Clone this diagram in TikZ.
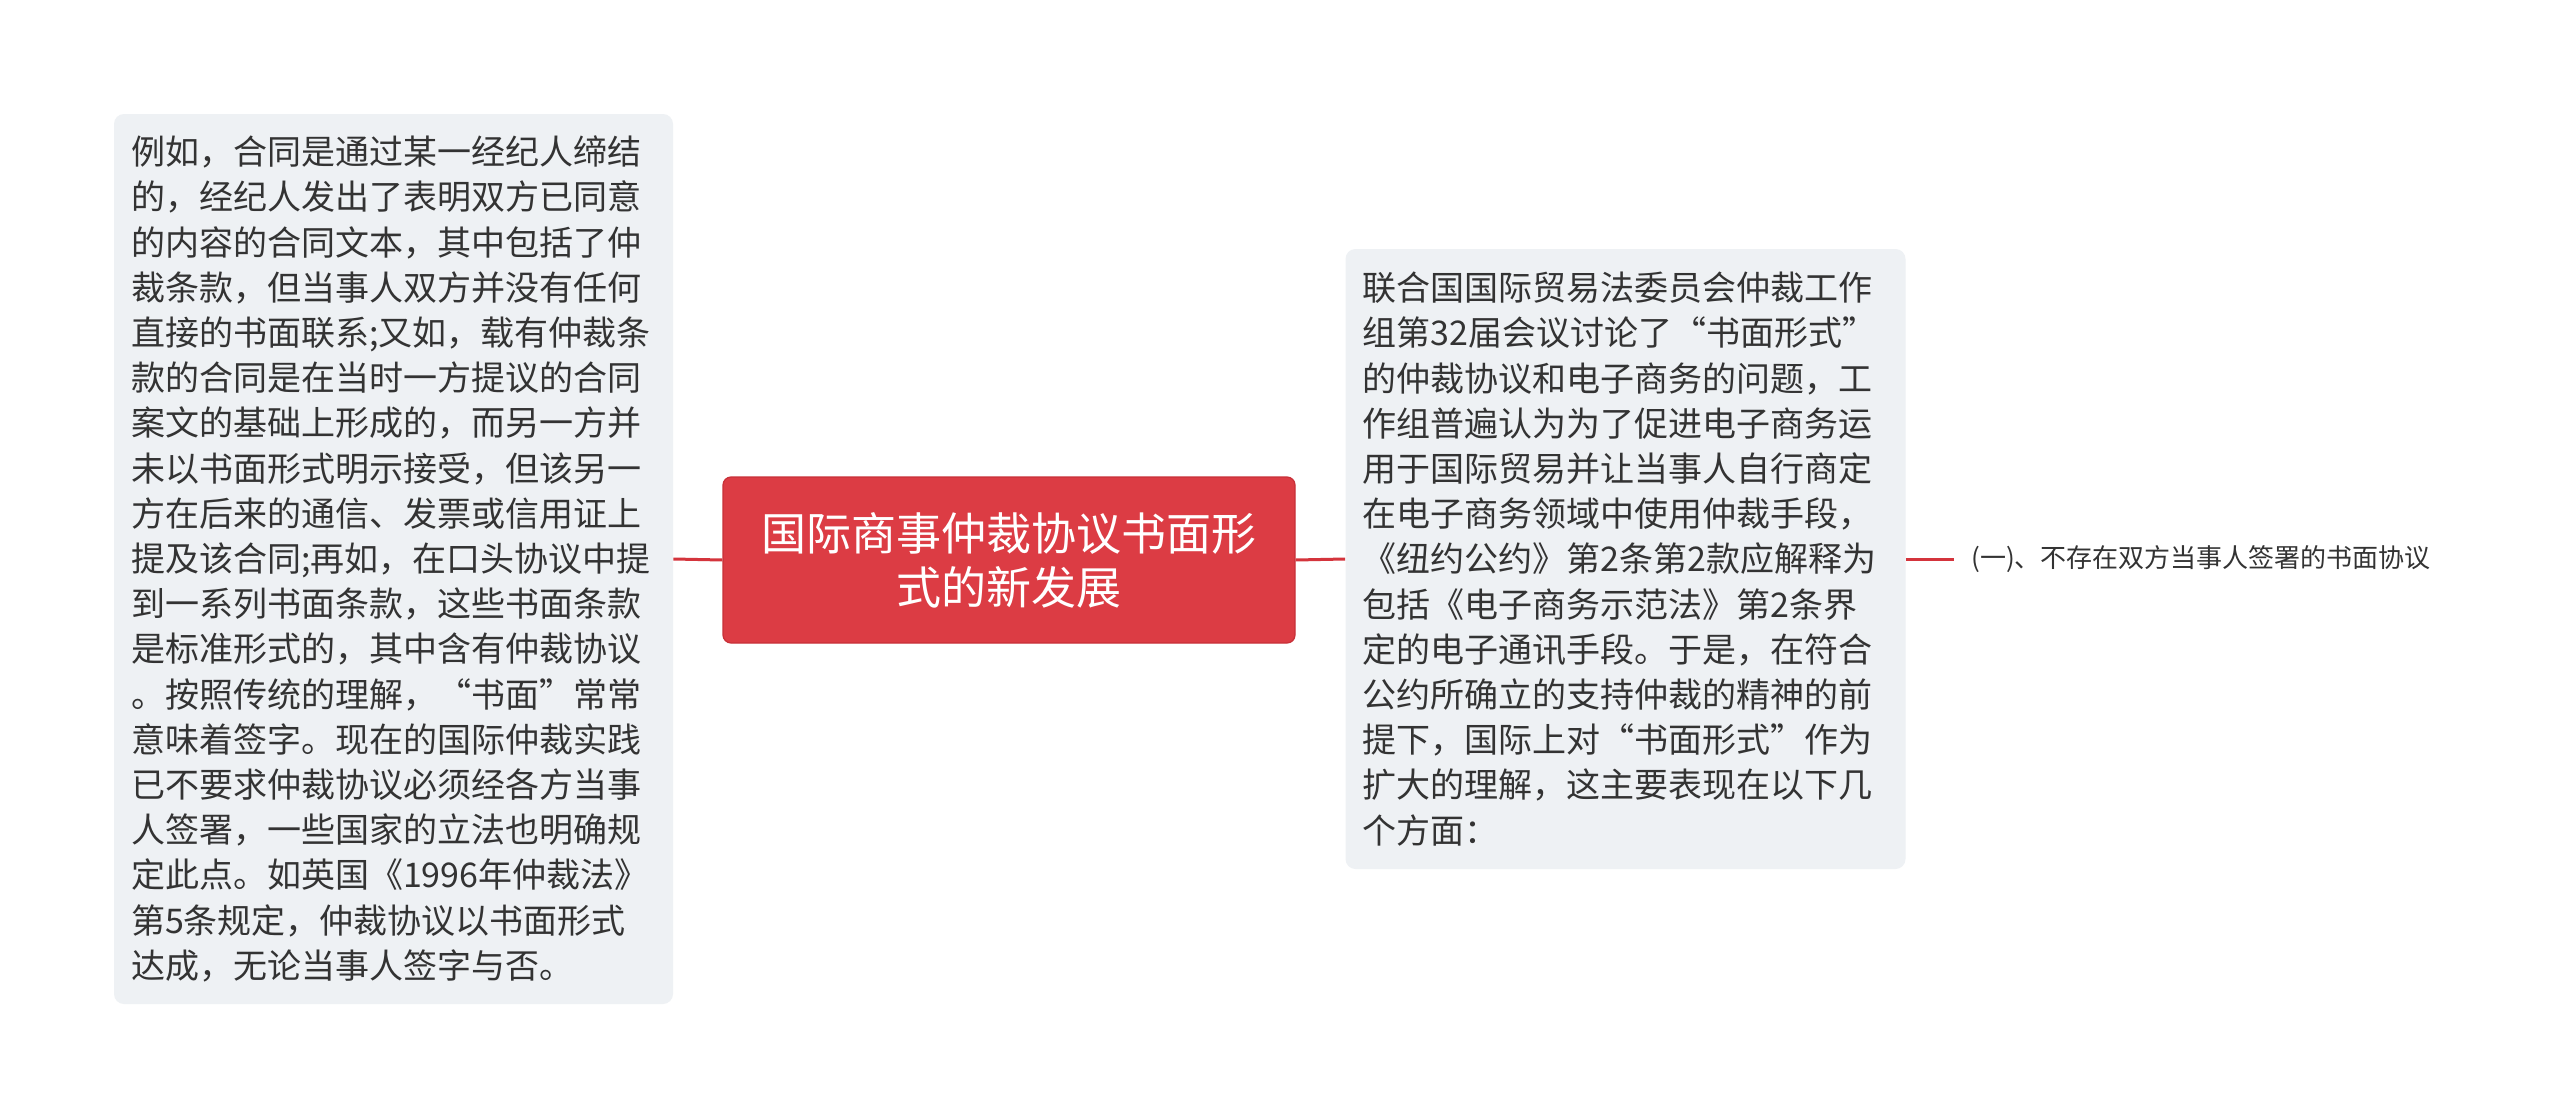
\documentclass[tikz,border=0pt]{standalone}
\usepackage{fontspec}
\setmainfont{Noto Sans CJK SC}
\usepackage{xcolor}
\definecolor{boxgray}{RGB}{238,241,244}
\definecolor{topicred}{RGB}{220,60,68}
\definecolor{topicline}{RGB}{200,48,56}
\definecolor{linkred}{RGB}{212,52,60}
\definecolor{txt}{RGB}{51,51,51}
\tikzset{
	leaf/.style={fill=boxgray,rounded corners=5pt,align=left,text=txt,
		inner xsep=8.5pt,font=\fontsize{17pt}{22.6pt}\selectfont},
	topic/.style={fill=topicred,draw=topicline,line width=0.6pt,rounded corners=4pt,
		align=center,text=white,font=\fontsize{22.5pt}{27pt}\selectfont},
	link/.style={draw=linkred,line width=1.5pt},
	label/.style={text=txt,inner xsep=8.5pt,font=\fontsize{13pt}{16pt}\selectfont}
}

\begin{document}
\begin{tikzpicture}[x=0.5pt,y=-0.5pt]
	\useasboundingbox[fill=white] (0,0) rectangle (2560,1119);

	% central topic
	\node[topic,minimum width=286pt,minimum height=83pt] (topic) at (1009,560)
		{国际商事仲裁协议书面形\\式的新发展};

	% left branch
	\node[leaf,text width=262.5pt,minimum height=445pt] (left) at (393.5,559)
		{例如，合同是通过某一经纪人缔结\\
		的，经纪人发出了表明双方已同意\\
		的内容的合同文本，其中包括了仲\\
		裁条款，但当事人双方并没有任何\\
		直接的书面联系;又如，载有仲裁条\\
		款的合同是在当时一方提议的合同\\
		案文的基础上形成的，而另一方并\\
		未以书面形式明示接受，但该另一\\
		方在后来的通信、发票或信用证上\\
		提及该合同;再如，在口头协议中提\\
		到一系列书面条款，这些书面条款\\
		是标准形式的，其中含有仲裁协议\\
		。按照传统的理解，“书面”常常\\
		意味着签字。现在的国际仲裁实践\\
		已不要求仲裁协议必须经各方当事\\
		人签署，一些国家的立法也明确规\\
		定此点。如英国《1996年仲裁法》\\
		第5条规定，仲裁协议以书面形式\\
		达成，无论当事人签字与否。};

	% right branch
	\node[leaf,text width=263pt,minimum height=310pt] (right) at (1625.5,559)
		{联合国国际贸易法委员会仲裁工作\\
		组第32届会议讨论了“书面形式”\\
		的仲裁协议和电子商务的问题，工\\
		作组普遍认为为了促进电子商务运\\
		用于国际贸易并让当事人自行商定\\
		在电子商务领域中使用仲裁手段，\\
		《纽约公约》第2条第2款应解释为\\
		包括《电子商务示范法》第2条界\\
		定的电子通讯手段。于是，在符合\\
		公约所确立的支持仲裁的精神的前\\
		提下，国际上对“书面形式”作为\\
		扩大的理解，这主要表现在以下几\\
		个方面：};

	\node[label,anchor=west] (sub) at (1954,559) {(一)、不存在双方当事人签署的书面协议};

	\draw[link] (left.east) -- (topic.west);
	\draw[link] (topic.east) -- (right.west);
	\draw[link] (right.east) -- (sub.west);

\end{tikzpicture}
\end{document}
